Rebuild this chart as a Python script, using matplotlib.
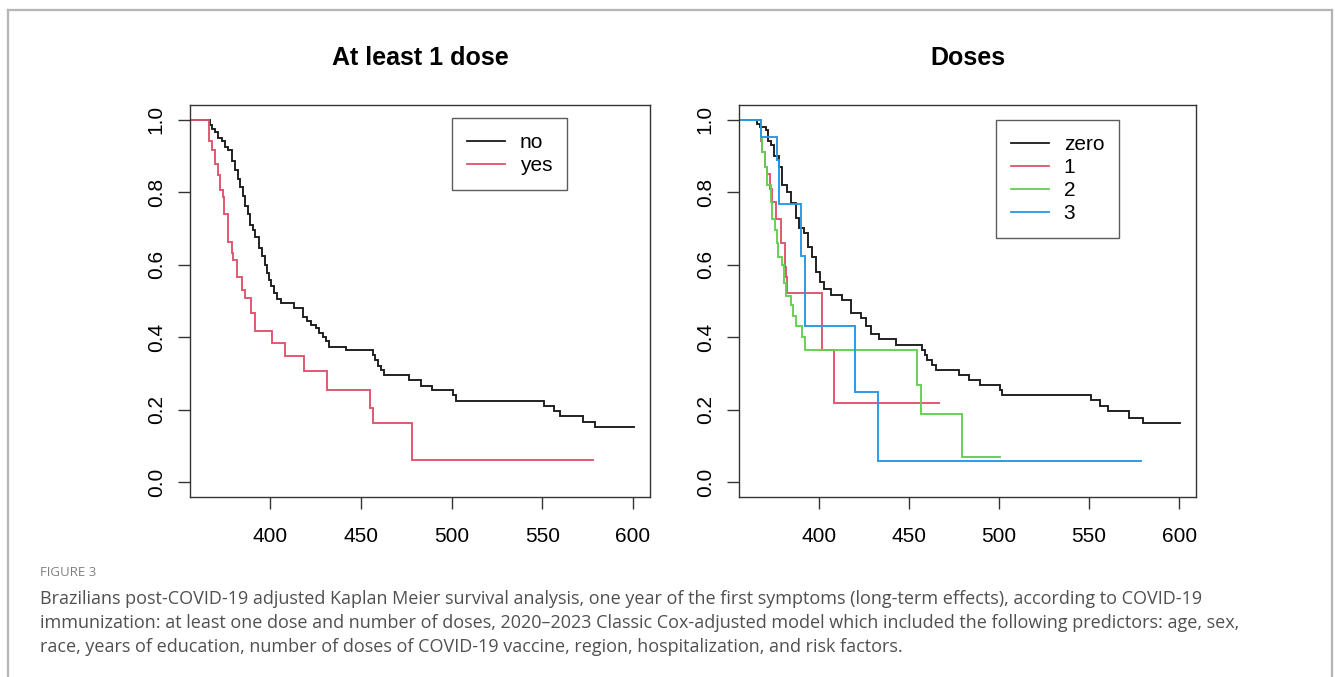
import matplotlib
matplotlib.use("Agg")
import matplotlib.pyplot as plt
from matplotlib.lines import Line2D

# ---------------- data ----------------
# Panel 1: at least one dose
no_times = [366.7, 368.0, 369.5, 371.3, 373.0, 375.0, 376.8, 378.7, 380.5, 382.0,
            383.3, 384.8, 386.1, 387.5, 388.9, 390.3, 391.7, 393.5, 395.3, 397.2,
            398.2, 399.1, 400.5, 401.8, 403.5, 405.6, 412.9, 417.9, 420.0, 422.5,
            425.0, 427.0, 429.0, 430.6, 432.4, 441.7, 456.4, 457.5, 459.5, 461.0,
            462.9, 476.4, 482.8, 488.9, 500.9, 502.4, 550.9, 556.4, 559.8, 572.2,
            579.2]
no_surv = [0.986, 0.975, 0.965, 0.950, 0.940, 0.925, 0.915, 0.885, 0.862, 0.835,
           0.815, 0.790, 0.762, 0.740, 0.710, 0.695, 0.675, 0.645, 0.625, 0.600,
           0.578, 0.558, 0.540, 0.521, 0.505, 0.495, 0.480, 0.456, 0.445, 0.435,
           0.425, 0.412, 0.402, 0.390, 0.374, 0.365, 0.350, 0.338, 0.322, 0.310,
           0.297, 0.281, 0.267, 0.254, 0.240, 0.225, 0.212, 0.196, 0.182, 0.167,
           0.153]
no_end = 600.3

yes_times = [366.1, 367.6, 369.4, 371.3, 372.2, 373.7, 374.6, 376.4, 376.8, 378.7,
             379.6, 381.4, 384.2, 386.1, 389.4, 391.7, 400.6, 408.0, 418.7, 431.4,
             455.0, 456.8, 478.3]
yes_surv = [0.942, 0.915, 0.878, 0.846, 0.805, 0.787, 0.741, 0.723, 0.663, 0.631,
            0.613, 0.567, 0.530, 0.507, 0.466, 0.416, 0.385, 0.349, 0.306, 0.254,
            0.205, 0.164, 0.063]
yes_end = 578.1

# Panel 2: number of doses
zero_times = [365.8, 367.2, 370.4, 371.9, 373.2, 375.0, 377.8, 379.7, 382.4, 384.3,
              387.0, 388.9, 391.7, 393.9, 396.3, 398.2, 400.4, 402.8, 406.5, 413.0,
              418.0, 423.2, 426.0, 428.7, 433.3, 442.6, 457.4, 458.7, 460.2, 463.0,
              464.8, 477.8, 483.3, 489.4, 500.6, 501.9, 550.9, 556.1, 560.6, 572.2,
              579.7]
zero_surv = [0.988, 0.980, 0.970, 0.940, 0.930, 0.900, 0.870, 0.820, 0.800, 0.770,
             0.730, 0.700, 0.686, 0.650, 0.620, 0.580, 0.553, 0.532, 0.517, 0.503,
             0.467, 0.453, 0.430, 0.410, 0.394, 0.379, 0.366, 0.352, 0.338, 0.325,
             0.311, 0.297, 0.283, 0.268, 0.256, 0.240, 0.226, 0.212, 0.196, 0.178,
             0.165]
zero_end = 600.6

one_times = [367.6, 368.6, 369.8, 371.0, 372.8, 374.1, 376.0, 378.7, 380.9, 381.9,
             382.4, 401.7, 408.3]
one_surv = [0.942, 0.910, 0.869, 0.850, 0.809, 0.773, 0.727, 0.660, 0.594, 0.567,
            0.523, 0.366, 0.218]
one_end = 466.6

two_times = [367.6, 368.5, 370.3, 371.3, 373.2, 374.1, 375.4, 376.5, 377.2, 379.3,
             380.6, 381.9, 384.3, 385.8, 387.0, 390.8, 392.1, 454.6, 456.8, 479.2]
two_surv = [0.950, 0.910, 0.869, 0.820, 0.773, 0.727, 0.695, 0.660, 0.620, 0.600,
            0.550, 0.514, 0.490, 0.459, 0.430, 0.400, 0.366, 0.268, 0.190, 0.071]
two_end = 500.5

three_times = [367.6, 376.5, 377.9, 389.8, 392.2, 419.8, 432.6]
three_surv = [0.953, 0.889, 0.768, 0.624, 0.432, 0.250, 0.058]
three_end = 578.7

x_ticks = [400, 450, 500, 550, 600]
y_ticks = [0.0, 0.2, 0.4, 0.6, 0.8, 1.0]
titles = ["At least 1 dose", "Doses"]
legend1 = ["no", "yes"]
legend2 = ["zero", "1", "2", "3"]

C_BLACK = "#1a1a1a"
C_RED = "#DF536B"
C_GREEN = "#61D04F"
C_BLUE = "#2297E6"

plt.rcParams['font.family'] = ['Liberation Sans', 'DejaVu Sans']

fig = plt.figure(figsize=(13.35, 6.77), dpi=100)
W, H = 1335, 677


def axes_px(left, top, right, bottom):
    return fig.add_axes([left / W, 1 - bottom / H, (right - left) / W, (bottom - top) / H])


def km(ax, times, surv, end, color):
    xs = [300.0] + list(times) + [end]
    ys = [1.0] + list(surv) + [surv[-1]]
    ax.step(xs, ys, where='post', color=color, lw=1.35, solid_joinstyle='miter')


def style(ax, title):
    ax.set_xlim(355.6, 609.4)
    ax.set_ylim(-0.04, 1.04)
    ax.set_xticks(x_ticks)
    ax.set_xticklabels([str(t) for t in x_ticks])
    ax.set_yticks(y_ticks)
    ax.set_yticklabels([f"{t:.1f}" for t in y_ticks], rotation=90, va='center')
    ax.tick_params(axis='both', labelsize=15, length=8.5, width=1.0, color="#333333",
                   direction='out')
    ax.tick_params(axis='x', pad=13)
    ax.tick_params(axis='y', pad=9)
    for s in ax.spines.values():
        s.set_color("#333333")
        s.set_linewidth(1.0)
    ax.set_title(title, fontsize=18, fontweight='bold', pad=28.5)


LEG_KW = dict(borderaxespad=0, fontsize=15, fancybox=False, edgecolor="#333333",
              handlelength=1.85, handletextpad=0.7, labelspacing=0.2, borderpad=0.72)

ax1 = axes_px(190, 105, 650, 497)
km(ax1, no_times, no_surv, no_end, C_BLACK)
km(ax1, yes_times, yes_surv, yes_end, C_RED)
style(ax1, titles[0])
h1 = [Line2D([], [], color=C_BLACK, lw=1.3), Line2D([], [], color=C_RED, lw=1.3)]
lg1 = ax1.legend(h1, legend1, loc='upper right', bbox_to_anchor=(0.820, 0.966), **LEG_KW)
lg1.get_frame().set_linewidth(1.0)

ax2 = axes_px(739, 105, 1196, 497)
km(ax2, zero_times, zero_surv, zero_end, C_BLACK)
km(ax2, one_times, one_surv, one_end, C_RED)
km(ax2, two_times, two_surv, two_end, C_GREEN)
km(ax2, three_times, three_surv, three_end, C_BLUE)
style(ax2, titles[1])
h2 = [Line2D([], [], color=c, lw=1.3) for c in (C_BLACK, C_RED, C_GREEN, C_BLUE)]
lg2 = ax2.legend(h2, legend2, loc='upper right', bbox_to_anchor=(0.832, 0.962), **LEG_KW)
lg2.get_frame().set_linewidth(1.0)

# outer frame (top, left, right)
fc = "#b5b5b5"
fig.add_artist(Line2D([8 / W, 1332 / W], [1 - 10 / H, 1 - 10 / H], color=fc, lw=1.6,
                      transform=fig.transFigure))
fig.add_artist(Line2D([8 / W, 8 / W], [1 - 10 / H, 0], color=fc, lw=1.6,
                      transform=fig.transFigure))
fig.add_artist(Line2D([1332 / W, 1332 / W], [1 - 10 / H, 0], color=fc, lw=1.6,
                      transform=fig.transFigure))

cap_font = ['Open Sans', 'DejaVu Sans']
fig.text(40 / W, 1 - 572 / H, "FIGURE 3", fontsize=9.5, color="#808080",
         family=cap_font, va='center', ha='left')
caption = ["Brazilians post-COVID-19 adjusted Kaplan Meier survival analysis, one year of the first symptoms (long-term effects), according to COVID-19",
           "immunization: at least one dose and number of doses, 2020\u20132023 Classic Cox-adjusted model which included the following predictors: age, sex,",
           "race, years of education, number of doses of COVID-19 vaccine, region, hospitalization, and risk factors."]
for i, line in enumerate(caption):
    fig.text(40 / W, 1 - (599 + 24 * i) / H, line, fontsize=13, color="#505050",
             family=cap_font, va='center', ha='left')

fig.savefig("out.png", dpi=100, facecolor="white")
